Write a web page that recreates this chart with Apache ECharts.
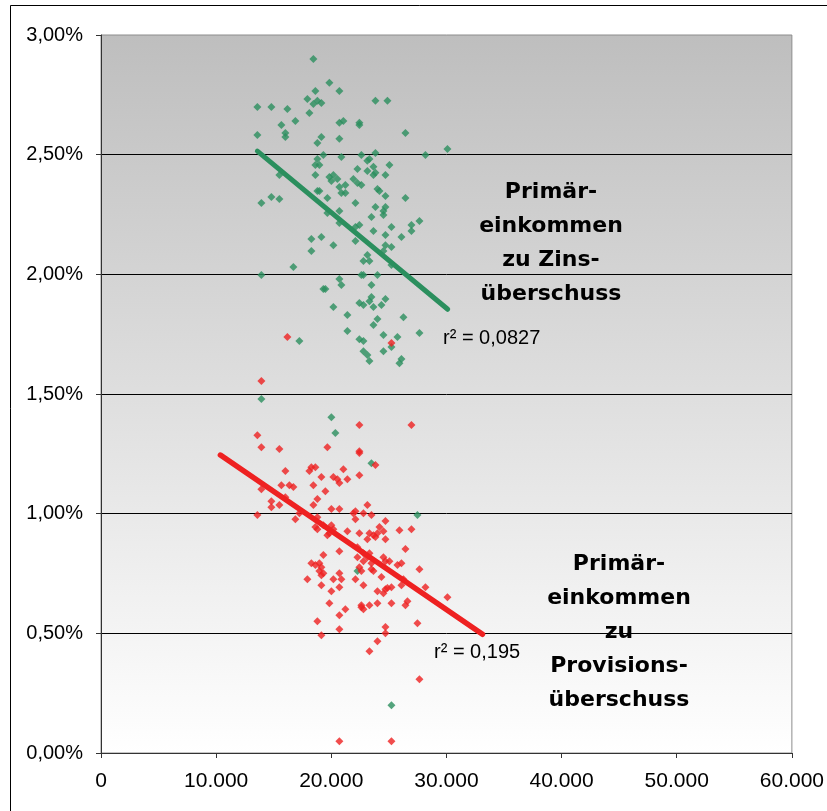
<!DOCTYPE html>
<html>
<head>
<meta charset="utf-8">
<script src="https://cdn.jsdelivr.net/npm/echarts@6/dist/echarts.min.js"></script>
<style>
  html, body { margin: 0; padding: 0; background: #ffffff; }
  #chart { width: 827px; height: 811px; }
</style>
</head>
<body>
<div id="chart"></div>
<script>
// Primäreinkommen zu Zinsüberschuss (x: Primäreinkommen, y: Anteil in %)
const greenX = [18445,19835,18618,20704,17923,18792,18445,19140,23831,24874,
  13579,14796,16186,18097,16881,15665,20704,21051,22441,22441,
  16012,16012,13579,19140,20704,18792,26438,30087,28175,19314,
  20877,22615,23831,23310,23130,18792,18618,18966,23658,25048,
  22268,23136,23831,23658,24700,15491,18618,19835,20182,20009,
  20530,21920,22268,22615,20704,21225,24005,24179,18792,18966,
  20877,21225,14796,15491,19661,24700,26438,13927,22094,23831,
  24700,24526,24526,20704,19661,23484,20704,22441,22094,25221,
  26959,26959,27654,23658,24700,26090,18271,19140,18271,20182,
  22094,24700,25221,24526,23136,22789,23310,16707,13927,22615,
  22789,24005,25221,20704,20877,19314,19488,23484,23484,23310,
  22441,22789,24700,23658,24353,20182,21399,24005,23658,26264,
  21399,22441,22789,24526,25743,27654,17228,25221,22789,23136,
  23310,24526,26090,25916,13927,20009,20356,23484,27480,22268,
  25221];
const greenY = [2.900,2.800,2.766,2.766,2.733,2.725,2.712,2.716,2.725,2.725,
  2.699,2.699,2.691,2.674,2.641,2.624,2.633,2.641,2.633,2.624,
  2.591,2.574,2.582,2.574,2.566,2.549,2.591,2.524,2.499,2.499,
  2.490,2.499,2.507,2.482,2.475,2.482,2.457,2.457,2.449,2.457,
  2.440,2.432,2.424,2.415,2.415,2.415,2.415,2.407,2.415,2.390,
  2.398,2.398,2.382,2.373,2.365,2.373,2.357,2.348,2.348,2.348,
  2.340,2.340,2.323,2.315,2.319,2.327,2.319,2.298,2.298,2.281,
  2.281,2.265,2.248,2.265,2.256,2.240,2.214,2.206,2.198,2.198,
  2.206,2.181,2.223,2.181,2.164,2.156,2.148,2.156,2.097,2.122,
  2.139,2.122,2.114,2.097,2.081,2.056,2.056,2.031,1.997,1.997,
  1.997,1.997,2.039,1.980,1.955,1.939,1.939,1.955,1.905,1.888,
  1.880,1.872,1.897,1.863,1.872,1.863,1.830,1.813,1.788,1.821,
  1.763,1.729,1.721,1.746,1.738,1.755,1.721,1.696,1.679,1.663,
  1.638,1.679,1.646,1.629,1.479,1.403,1.337,1.211,0.994,0.760,
  0.199];

// Primäreinkommen zu Provisionsüberschuss
const redX = [13927,13579,13927,15491,19661,22441,26959,22441,22441,23831,
  16012,18097,18271,18618,21051,19140,20182,20530,20704,21399,
  22441,15665,16360,16707,18445,13927,19488,16012,18792,14796,
  14796,15491,18445,20009,20704,23136,22094,21920,22789,23484,
  13579,16881,17228,18792,22094,24700,24179,26959,25916,18618,
  18792,19314,20009,20182,19835,19661,21399,22441,23310,23658,
  24005,23136,23831,24526,24700,20704,22268,22789,23310,23136,
  26438,19314,18271,18618,18966,19140,18966,19314,19140,17923,
  20182,20704,20877,22094,22268,22441,22615,22789,23484,23658,
  23484,24353,24526,24700,25048,25743,26090,27654,19140,20704,
  22789,20009,24005,24700,24526,24874,25221,26090,26264,28175,
  30087,19835,22615,22789,22615,23310,24005,25221,26438,26611,
  21225,20704,18792,27480,24700,20704,24700,24005,19140,23310,
  27654,20704,25221,16186,25221];
const redY = [1.554,1.328,1.278,1.270,1.278,1.370,1.370,1.261,1.253,1.203,
  1.178,1.178,1.194,1.194,1.186,1.153,1.153,1.144,1.128,1.144,
  1.161,1.119,1.119,1.111,1.119,1.102,1.094,1.069,1.061,1.052,
  1.027,1.036,1.036,1.019,1.019,1.036,1.010,1.002,1.002,0.994,
  0.994,0.977,1.002,0.985,0.977,0.969,0.944,0.935,0.931,0.944,
  0.935,0.952,0.952,0.935,0.918,0.910,0.927,0.918,0.918,0.910,
  0.918,0.893,0.902,0.927,0.893,0.843,0.860,0.835,0.835,0.818,
  0.852,0.827,0.793,0.785,0.793,0.776,0.760,0.751,0.743,0.726,
  0.726,0.751,0.726,0.726,0.818,0.776,0.760,0.801,0.768,0.760,
  0.793,0.735,0.818,0.801,0.801,0.785,0.793,0.768,0.701,0.693,
  0.701,0.676,0.676,0.684,0.668,0.689,0.693,0.701,0.726,0.693,
  0.651,0.626,0.617,0.601,0.609,0.617,0.626,0.626,0.617,0.634,
  0.601,0.576,0.551,0.542,0.526,0.517,0.500,0.467,0.492,0.425,
  0.308,0.049,0.049,1.738,1.713];

// Lineare Trendlinien (Anfangs- und Endpunkt)
const greenTrendX = [13580, 30110];
const greenTrendY = [2.515, 1.854];
const redTrendX = [10370, 33130];
const redTrendY = [1.245, 0.496];

const greenR2 = 'r\u00B2 = 0,0827';
const redR2 = 'r\u00B2 = 0,195';
const greenTitle = ['Primär-', 'einkommen', 'zu Zins-', 'überschuss'];
const redTitle = ['Primär-', 'einkommen', 'zu', 'Provisions-', 'überschuss'];

const xMin = 0, xMax = 60000, xStep = 10000;
const yMin = 0, yMax = 3, yStep = 0.5;

const GREEN = '#2b8f5e';
const RED = '#ee2121';

function pairs(xs, ys) {
  return xs.map((x, i) => [x, ys[i]]);
}
function fmtThousands(v) {
  return String(Math.round(v)).replace(/\B(?=(\d{3})+(?!\d))/g, '.');
}
function fmtPercent(v) {
  return v.toFixed(2).replace('.', ',') + '%';
}

const chart = echarts.init(document.getElementById('chart'), null, { renderer: 'canvas' });

chart.setOption({
  animation: false,
  backgroundColor: '#ffffff',
  grid: {
    left: 101, right: 35, top: 35, bottom: 58,
    show: true,
    borderColor: '#8c8c8c',
    borderWidth: 1,
    backgroundColor: new echarts.graphic.LinearGradient(0, 0, 0, 1, [
      { offset: 0, color: '#bebebe' },
      { offset: 1, color: '#ffffff' }
    ])
  },
  xAxis: {
    type: 'value',
    min: xMin, max: xMax, interval: xStep,
    axisLine: { show: true, lineStyle: { color: '#333333', width: 1 } },
    axisTick: { show: true, length: 5, inside: false, lineStyle: { color: '#333333' } },
    splitLine: { show: false },
    axisLabel: {
      color: '#000000',
      fontFamily: 'Liberation Sans, Arial, sans-serif',
      fontSize: 21,
      margin: 18,
      formatter: fmtThousands
    }
  },
  yAxis: {
    type: 'value',
    min: yMin, max: yMax, interval: yStep,
    axisLine: { show: true, lineStyle: { color: '#333333', width: 1 } },
    axisTick: { show: true, length: 5, inside: false, lineStyle: { color: '#333333' } },
    splitLine: {
      show: true,
      showMinLine: false,
      showMaxLine: false,
      lineStyle: { color: '#000000', width: 1 }
    },
    axisLabel: {
      color: '#000000',
      fontFamily: 'Liberation Sans, Arial, sans-serif',
      fontSize: 20,
      margin: 18,
      formatter: fmtPercent
    }
  },
  series: [
    {
      name: 'Zinsüberschuss',
      type: 'scatter',
      symbol: 'diamond',
      symbolSize: 8,
      itemStyle: { color: GREEN },
      data: pairs(greenX, greenY),
      z: 2
    },
    {
      name: 'Provisionsüberschuss',
      type: 'scatter',
      symbol: 'diamond',
      symbolSize: 8,
      itemStyle: { color: RED },
      data: pairs(redX, redY),
      z: 3
    },
    {
      name: 'Trend Zins',
      type: 'line',
      showSymbol: false,
      symbol: 'none',
      lineStyle: { color: GREEN, width: 5, cap: 'round' },
      data: pairs(greenTrendX, greenTrendY),
      z: 4
    },
    {
      name: 'Trend Provision',
      type: 'line',
      showSymbol: false,
      symbol: 'none',
      lineStyle: { color: RED, width: 5.5, cap: 'round' },
      data: pairs(redTrendX, redTrendY),
      z: 4
    }
  ],
  graphic: [
    {
      type: 'rect',
      silent: true,
      shape: { x: 10.5, y: 5.5, width: 900, height: 900 },
      style: { fill: 'none', stroke: '#000000', lineWidth: 1 },
      z: 0
    },
    {
      type: 'text',
      silent: true,
      x: 551, y: 175,
      style: {
        text: greenTitle.join('\n'),
        font: 'bold 22px "DejaVu Sans", sans-serif',
        fill: '#000000',
        align: 'center',
        verticalAlign: 'top',
        lineHeight: 34
      },
      z: 10
    },
    {
      type: 'text',
      silent: true,
      x: 619, y: 547,
      style: {
        text: redTitle.join('\n'),
        font: 'bold 22px "DejaVu Sans", sans-serif',
        fill: '#000000',
        align: 'center',
        verticalAlign: 'top',
        lineHeight: 34
      },
      z: 10
    },
    {
      type: 'text',
      silent: true,
      x: 443, y: 338,
      style: {
        text: greenR2,
        font: '20px "Liberation Sans", Arial, sans-serif',
        fill: '#000000',
        align: 'left',
        verticalAlign: 'middle'
      },
      z: 10
    },
    {
      type: 'text',
      silent: true,
      x: 434, y: 652,
      style: {
        text: redR2,
        font: '20px "Liberation Sans", Arial, sans-serif',
        fill: '#000000',
        align: 'left',
        verticalAlign: 'middle'
      },
      z: 10
    }
  ]
});
</script>
</body>
</html>
